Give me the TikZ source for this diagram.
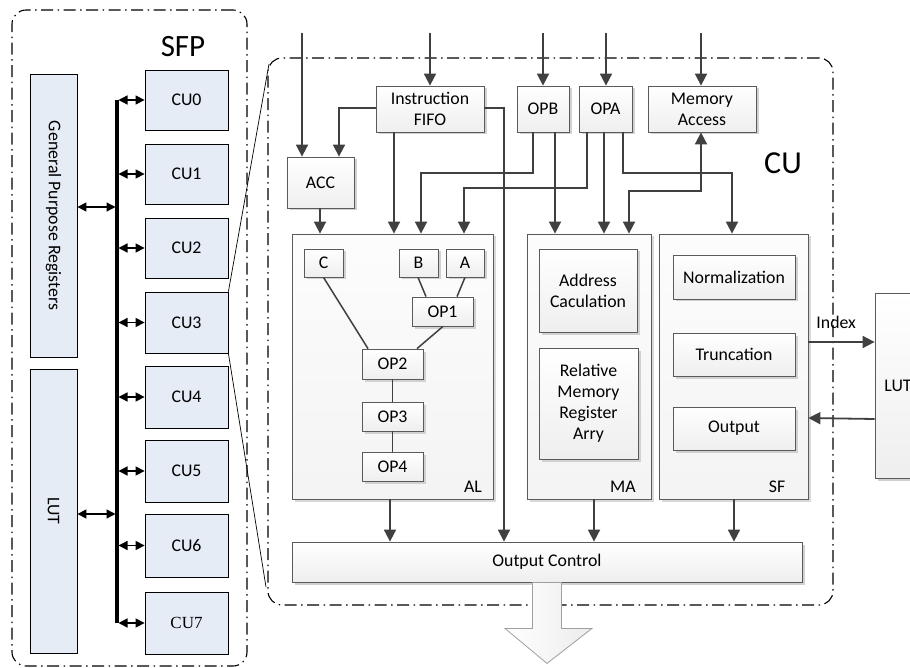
\documentclass[tikz,border=0pt]{standalone}
\usepackage{fontspec}
\setmainfont{Carlito}
\newfontfamily\cuserif{Liberation Serif}
\usetikzlibrary{arrows.meta,shadows,fit,calc}
\definecolor{sfpblue}{HTML}{E6ECF6}
\definecolor{ln}{HTML}{404040}
\definecolor{bd}{HTML}{5A5A5A}
\newcommand{\myfs}{\fontsize{17.8}{21}\selectfont}
\tikzset{
  sfpbox/.style={draw=black, fill=sfpblue, line width=0.8pt, inner sep=0pt},
  gbox/.style={draw=bd, line width=0.8pt, top color=white, bottom color=gray!13,
    drop shadow={shadow xshift=2.5pt, shadow yshift=-2.5pt, fill=black!18, opacity=1},
    inner sep=0pt},
  bigbox/.style={draw=bd, line width=0.8pt, top color=gray!2, bottom color=gray!9,
    drop shadow={shadow xshift=2.5pt, shadow yshift=-2.5pt, fill=black!15, opacity=1},
    inner sep=0pt},
  flow/.style={draw=ln, line width=1.8pt, -{Triangle[length=12pt,width=12pt]}},
  flowtwo/.style={draw=ln, line width=1.8pt, {Triangle[length=12pt,width=12pt]}-{Triangle[length=12pt,width=12pt]}},
  dbl/.style={draw=black, line width=1.3pt, {Triangle[length=9pt,width=9pt]}-{Triangle[length=9pt,width=9pt]}},
  tree/.style={draw=ln, line width=1.5pt},
  dashdot/.style={draw=black, line width=1.1pt, dash pattern=on 12pt off 4.5pt on 1.5pt off 4.5pt, rounded corners=14pt, inner sep=0pt},
  lbl/.style={font=\myfs, inner sep=0pt, align=center},
}
% \bx{name}{style}{corner}{corner}{text}
\newcommand{\bx}[5]{\node[#2, fit={#3#4}] (#1) {};\node[lbl] at (#1.center) {#5};}
\begin{document}
\begin{tikzpicture}[x=1pt,y=-1pt]
\useasboundingbox (0,0) rectangle (910,668);

% ---------- SFP ----------
\node[dashdot, fit={(12,10)(247,666)}] (sfp) {};
\node[font=\fontsize{31}{34}\selectfont, inner sep=0pt] at (183,47) {SFP};

\node[sfpbox, fit={(30,74)(77,357)}] (gpr) {};
\node[lbl, rotate=-90] at (gpr.center) {General Purpose Registers};
\node[sfpbox, fit={(30,369)(77,653)}] (lutl) {};
\node[lbl, rotate=-90] at (lutl.center) {LUT};

\bx{cu0}{sfpbox}{(145,70)}{(228,130)}{CU0}
\bx{cu1}{sfpbox}{(145,144)}{(228,204)}{CU1}
\bx{cu2}{sfpbox}{(145,218)}{(228,278)}{CU2}
\bx{cu3}{sfpbox}{(145,292)}{(228,353)}{CU3}
\bx{cu4}{sfpbox}{(145,366)}{(228,428)}{CU4}
\bx{cu5}{sfpbox}{(145,440)}{(228,502)}{CU5}
\bx{cu6}{sfpbox}{(145,514)}{(228,577)}{CU6}
\bx{cu7}{sfpbox}{(145,592)}{(228,654)}{\fontsize{17}{19}\cuserif CU7}

\coordinate (bustop) at (117,100);
\coordinate (busbot) at (117,623);
\draw[line width=4pt] (bustop) -- (busbot);
\foreach \c in {cu0,cu1,cu2,cu3,cu4,cu5,cu6,cu7} {
  \draw[dbl, shorten <=1.5pt] (\c.west -| bustop) -- (\c.west);
}
\coordinate (ga) at (117,207);
\coordinate (la) at (117,514);
\draw[dbl, shorten >=1.5pt] (gpr.east |- ga) -- (ga);
\draw[dbl, shorten >=1.5pt] (lutl.east |- la) -- (la);

% ---------- CU ----------
\node[dashdot, fit={(268,58)(833,605)}] (cubox) {};
\node[font=\fontsize{32}{35}\selectfont, inner sep=0pt] at (783,163) {CU};

\coordinate (z1) at (269,64);
\coordinate (z2) at (266,587);
\draw[line width=0.7pt] (cu3.north east) -- (z1);
\draw[line width=0.7pt] (cu3.south east) -- (z2);

\bx{acc}{gbox}{(287,157)}{(354,208)}{ACC}
\bx{fifo}{gbox}{(376,86)}{(484,132)}{Instruction\\FIFO}
\bx{opb}{gbox}{(517,86)}{(569,132)}{OPB}
\bx{opa}{gbox}{(579,86)}{(632,132)}{OPA}
\bx{mem}{gbox}{(648,86)}{(756,132)}{Memory\\Access}

\node[bigbox, fit={(292,234)(493,499)}] (al) {};
\node[bigbox, fit={(527,234)(651,499)}] (ma) {};
\node[bigbox, fit={(659,234)(808,499)}] (sf) {};
\node[lbl] at (473,487) {AL};
\node[lbl] at (623,487) {MA};
\node[lbl] at (777,487) {SF};

\bx{c}{gbox}{(304,249)}{(343,277)}{C}
\bx{b}{gbox}{(399,249)}{(438,277)}{B}
\bx{a}{gbox}{(446,249)}{(484,277)}{A}
\bx{op1}{gbox}{(412,297)}{(473,326)}{OP1}
\bx{op2}{gbox}{(362,349)}{(423,379)}{OP2}
\bx{op3}{gbox}{(362,402)}{(423,431)}{OP3}
\bx{op4}{gbox}{(362,452)}{(423,481)}{OP4}

\bx{addr}{gbox}{(539,249)}{(637,332)}{Address\\Caculation}
\bx{rel}{gbox}{(539,348)}{(638,459)}{Relative\\Memory\\Register\\Arry}

\bx{norm}{gbox}{(673,255)}{(795,299)}{Normalization}
\bx{trunc}{gbox}{(673,333)}{(795,376)}{Truncation}
\bx{outp}{gbox}{(673,407)}{(795,450)}{Output}

\bx{oc}{gbox}{(292,542)}{(802,582)}{Output Control}
\bx{lutr}{gbox}{(875,293)}{(921,478)}{LUT}

% inputs from top
\coordinate (in1) at (302,33);
\coordinate (in2) at (430,33);
\coordinate (in3) at (543,33);
\coordinate (in4) at (606,33);
\coordinate (in5) at (701,33);
\draw[flow] (in1) -- (in1 |- acc.north);
\draw[flow] (in2) -- (in2 |- fifo.north);
\draw[flow] (in3) -- (in3 |- opb.north);
\draw[flow] (in4) -- (in4 |- opa.north);
\draw[flow] (in5) -- (in5 |- mem.north);

% internal connectors
\draw[flow] (fifo.west |- 0,108) -| (acc.north -| 339,0);
\draw[flow] (fifo.east |- 0,108) -| (oc.north -| 504,0);
\draw[flow] (fifo.south -| 394,0) -- (al.north -| 394,0);
\draw[flow] (acc.south -| 320,0) -- (al.north -| 320,0);
\draw[flow] (opb.south -| 533,0) -- (533,173) -| (al.north -| 421,0);
\draw[flow] (opb.south -| 555,0) -- (ma.north -| 555,0);
\draw[flow] (opa.south -| 587,0) -- (587,188) -| (al.north -| 464,0);
\draw[flow] (opa.south -| 604,0) -- (ma.north -| 604,0);
\draw[flow] (opa.south -| 623,0) -- (623,173) -| (sf.north -| 732,0);
\draw[flowtwo] (ma.north -| 629,0) -- (629,191) -| (mem.south -| 701,0);
\draw[flow] (al.south -| 390,0) -- (oc.north -| 390,0);
\draw[flow] (ma.south -| 594,0) -- (oc.north -| 594,0);
\draw[flow] (sf.south -| 734,0) -- (oc.north -| 734,0);
\draw[flow] (sf.east |- 0,342) -- node[lbl, pos=0.42, above=12pt] {Index} (lutr.west |- 0,342);
\draw[flow] (lutr.west |- 0,419) -- (sf.east |- 0,418);

% tree inside AL
\draw[tree] (c.south) -- (op2.north -| 368,0);
\draw[tree] (b.south -| 418,0) -- (op1.north -| 426,0);
\draw[tree] (a.south -| 465,0) -- (op1.north -| 457,0);
\draw[tree] (op1.south -| 443,0) -- (op2.north -| 417,0);
\draw[tree] (op2.south) -- (op3.north);
\draw[tree] (op3.south) -- (op4.north);

% big output arrow
\draw[draw=gray!75, line width=0.8pt, left color=white, right color=gray!15]
  ($(oc.south)+(-14.5,0)$) -- ($(oc.south)+(14.5,0)$) -- ($(oc.south)+(14.5,46)$)
  -- ($(oc.south)+(45,46)$) -- ($(oc.south)+(0,81)$) -- ($(oc.south)+(-42,46)$)
  -- ($(oc.south)+(-14.5,46)$) -- cycle;
\end{tikzpicture}
\end{document}
